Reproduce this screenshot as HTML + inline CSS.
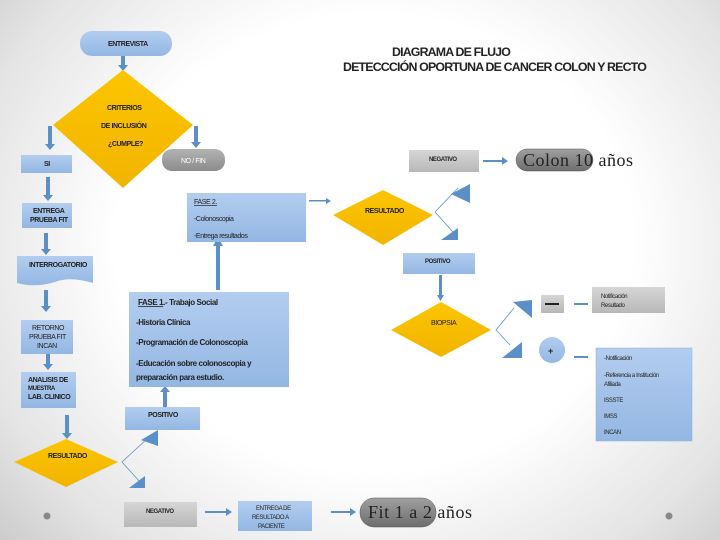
<!DOCTYPE html>
<html><head><meta charset="utf-8"><style>
html,body{margin:0;padding:0;width:720px;height:540px;overflow:hidden}
body{background:radial-gradient(ellipse 72% 85% at 52% 45%,#ffffff 50%,#e4e4e4 80%,#c8c8c8 100%)}
svg{position:absolute;left:0;top:0}
text{font-family:"Liberation Sans",sans-serif;font-size:7px;font-weight:bold;fill:#222;letter-spacing:-0.4px}
.s{font-size:7px;font-weight:normal}
.f{font-size:8px;font-weight:bold}
</style></head><body>
<svg width="720" height="540" viewBox="0 0 720 540">
<defs>
<linearGradient id="b" x1="0" y1="0" x2="0" y2="1"><stop offset="0" stop-color="#b3cdef"/><stop offset="1" stop-color="#93b7e3"/></linearGradient>
<linearGradient id="g" x1="0" y1="0" x2="0" y2="1"><stop offset="0" stop-color="#d6d6d6"/><stop offset="1" stop-color="#b8b8b8"/></linearGradient>
<linearGradient id="d" x1="0" y1="0" x2="0" y2="1"><stop offset="0" stop-color="#a0a0a0"/><stop offset="1" stop-color="#6e6e6e"/></linearGradient>
<linearGradient id="y" x1="0" y1="0" x2="0" y2="1"><stop offset="0" stop-color="#fcc500"/><stop offset="1" stop-color="#f2b400"/></linearGradient>
</defs>
<text x="392" y="56" textLength="118" lengthAdjust="spacingAndGlyphs" style="font-size:12px;letter-spacing:-0.8px">DIAGRAMA DE FLUJO</text>
<text x="343" y="71" textLength="303" lengthAdjust="spacingAndGlyphs" style="font-size:12px;letter-spacing:-0.8px">DETECCCIÓN OPORTUNA DE CANCER COLON Y RECTO</text>

<rect x="80" y="31" width="92" height="25" rx="12" fill="url(#b)"/>
<text x="108" y="46">ENTREVISTA</text>
<rect x="121" y="56" width="4" height="10" fill="#5b8fc7"/><polygon points="118,65 128,65 123,71" fill="#5b8fc7"/>
<polygon points="123,70 193,125 123,188 53,125" fill="url(#y)"/>
<text x="107" y="110">CRITERIOS</text>
<text x="101" y="128">DE INCLUSIÓN</text>
<text x="108" y="146">¿CUMPLE?</text>
<rect x="48" y="126" width="4" height="20" fill="#5b8fc7"/><polygon points="45,144 55,144 50,150" fill="#5b8fc7"/>
<rect x="194" y="126" width="4" height="18" fill="#5b8fc7"/><polygon points="191,142 201,142 196,148" fill="#5b8fc7"/>
<rect x="21" y="155" width="51" height="18" fill="url(#b)"/><text x="44" y="166">SI</text>
<rect x="162" y="149" width="63" height="22" rx="10" fill="url(#d)" opacity="0.8"/><text x="181" y="163" class="s" style="fill:#fff">NO / FIN</text>
<rect x="46" y="177" width="4" height="20" fill="#5b8fc7"/><polygon points="43,195 53,195 48,201" fill="#5b8fc7"/>
<rect x="22" y="203" width="50" height="25" fill="url(#b)"/><text x="33" y="213">ENTREGA</text><text x="30" y="222">PRUEBA FIT</text>
<rect x="44" y="233" width="4" height="18" fill="#5b8fc7"/><polygon points="41,249 51,249 46,255" fill="#5b8fc7"/>
<path d="M17,256 H93 V283 Q70,276 55,282 Q35,288 17,283 Z" fill="url(#b)"/><text x="29" y="267">INTERROGATORIO</text>
<rect x="44" y="290" width="4" height="18" fill="#5b8fc7"/><polygon points="41,306 51,306 46,312" fill="#5b8fc7"/>
<rect x="21" y="320" width="52" height="34" fill="url(#b)"/><text x="32" y="330" class="s">RETORNO</text><text x="29" y="339" class="s">PRUEBA FIT</text><text x="37" y="348" class="s">INCAN</text>
<rect x="46" y="354" width="4" height="12" fill="#5b8fc7"/><polygon points="43,364 53,364 48,370" fill="#5b8fc7"/>
<rect x="21" y="372" width="55" height="36" fill="url(#b)"/><text x="28" y="382">ANALISIS DE</text><text x="28" y="390" style="font-size:6px">MUESTRA</text><text x="28" y="399">LAB. CLINICO</text>
<rect x="65" y="415" width="4" height="20" fill="#5b8fc7"/><polygon points="62,433 72,433 67,439" fill="#5b8fc7"/>
<polygon points="66,439 118,462 66,487 14,462" fill="url(#y)"/><text x="48" y="458">RESULTADO</text>
<polyline points="148,438 122,462 140,482" fill="none" stroke="#5b8fc7" stroke-width="0.8"/>
<polygon points="141,440 158,430 158,446" fill="#5b8fc7"/><polygon points="129,488 145,476 145,488" fill="#5b8fc7"/>
<rect x="125" y="407" width="75" height="23" fill="url(#b)"/><text x="148" y="417">POSITIVO</text>
<rect x="163" y="390" width="4" height="17" fill="#5b8fc7"/><polygon points="160,392 170,392 165,386" fill="#5b8fc7"/>
<rect x="129" y="292" width="160" height="95" fill="url(#b)"/>
<text x="138" y="305" class="f"><tspan text-decoration="underline">FASE 1</tspan>.- Trabajo Social</text>
<text x="136" y="325" class="f">-Historia Clínica</text>
<text x="136" y="345" class="f">-Programación de Colonoscopia</text>
<text x="136" y="366" class="f">-Educación sobre colonoscopia y</text>
<text x="136" y="380" class="f">preparación para estudio.</text>
<rect x="216" y="244" width="4" height="46" fill="#5b8fc7"/><polygon points="213,246 223,246 218,237" fill="#5b8fc7"/>
<rect x="187" y="193" width="119" height="49" fill="url(#b)"/>
<text x="194" y="204" class="s" text-decoration="underline">FASE 2.</text>
<text x="194" y="221" class="s">-Colonoscopia</text>
<text x="194" y="238" class="s">-Entrega resultados</text>
<rect x="309" y="200" width="18" height="1.5" fill="#5b8fc7"/><polygon points="326,198 331,201 326,204" fill="#5b8fc7"/>
<polygon points="383,190 433,215 383,245 333,215" fill="url(#y)"/><text x="365" y="213">RESULTADO</text>
<polyline points="458,188 435,212 453,232" fill="none" stroke="#5b8fc7" stroke-width="0.8"/>
<polygon points="451,194 470,184 470,203" fill="#5b8fc7"/><polygon points="441,240 458,228 458,240" fill="#5b8fc7"/>
<rect x="409" y="150" width="70" height="22" fill="url(#g)"/><text x="429" y="161" style="font-size:6px">NEGATIVO</text>
<rect x="483" y="160" width="20" height="2" fill="#5b8fc7"/><polygon points="502,157 508,161 502,165" fill="#5b8fc7"/>
<rect x="516" y="149" width="77" height="22" rx="11" fill="url(#d)" stroke="#555" stroke-width="0.5"/>
<text x="523" y="166" textLength="110" lengthAdjust="spacing" style="font-family:'Liberation Serif',serif;font-size:18px;font-weight:normal;letter-spacing:0">Colon 10 años</text>
<rect x="403" y="253" width="72" height="21" fill="url(#b)"/><text x="425" y="263" style="font-size:6px">POSITIVO</text>
<rect x="439" y="275" width="3" height="22" fill="#5b8fc7"/><polygon points="437,295 444,295 440.5,301" fill="#5b8fc7"/>
<polygon points="441,302 491,330 441,357 391,330" fill="url(#y)"/><text x="431" y="325" class="s">BIOPSIA</text>
<polyline points="514,308 496,330 510,345" fill="none" stroke="#5b8fc7" stroke-width="0.8"/>
<polygon points="513,302 532,300 532,318" fill="#5b8fc7"/><polygon points="502,358 522,342 522,358" fill="#5b8fc7"/>
<rect x="541" y="295" width="23" height="18" fill="url(#g)"/><rect x="545" y="303" width="14" height="2" fill="#222"/>
<rect x="574" y="303" width="14" height="2" fill="#5b8fc7"/>
<rect x="592" y="287" width="73" height="26" fill="url(#g)"/><text x="601" y="298" class="s" style="font-size:6px">Notificación</text><text x="601" y="307" class="s" style="font-size:6px">Resultado</text>
<circle cx="552" cy="350" r="13" fill="url(#b)"/><text x="548" y="354" style="font-size:9px">+</text>
<rect x="574" y="356" width="14" height="2" fill="#5b8fc7"/>
<rect x="596" y="348" width="96" height="93" fill="url(#b)" stroke="#8eaedb" stroke-width="0.5"/>
<text x="604" y="360" class="s" style="font-size:6px">-Notificación</text>
<text x="604" y="377" class="s" style="font-size:6px">-Referencia a Institución</text>
<text x="604" y="386" class="s" style="font-size:6px">Afiliada</text>
<text x="604" y="402" class="s" style="font-size:6px">ISSSTE</text>
<text x="604" y="418" class="s" style="font-size:6px">IMSS</text>
<text x="604" y="434" class="s" style="font-size:6px">INCAN</text>
<rect x="124" y="502" width="73" height="25" fill="url(#g)"/><text x="146" y="513" style="font-size:6px">NEGATIVO</text>
<rect x="205" y="511" width="22" height="2" fill="#5b8fc7"/><polygon points="226,508 232,512 226,516" fill="#5b8fc7"/>
<rect x="238" y="501" width="74" height="30" fill="url(#b)"/><text x="256" y="510" class="s" style="font-size:6px">ENTREGA DE</text><text x="252" y="519" class="s" style="font-size:6px">RESULTADO A</text><text x="258" y="528" class="s" style="font-size:6px">PACIENTE</text>
<rect x="331" y="511" width="20" height="2" fill="#5b8fc7"/><polygon points="350,508 356,512 350,516" fill="#5b8fc7"/>
<rect x="360" y="498" width="76" height="29" rx="14" fill="url(#d)" stroke="#555" stroke-width="0.5"/>
<text x="368" y="518" textLength="104" lengthAdjust="spacing" style="font-family:'Liberation Serif',serif;font-size:18px;font-weight:normal;letter-spacing:0">Fit 1 a 2 años</text>
<circle cx="47" cy="516" r="3.5" fill="#888"/><circle cx="669" cy="516" r="3.5" fill="#888"/>
</svg>
</body></html>
